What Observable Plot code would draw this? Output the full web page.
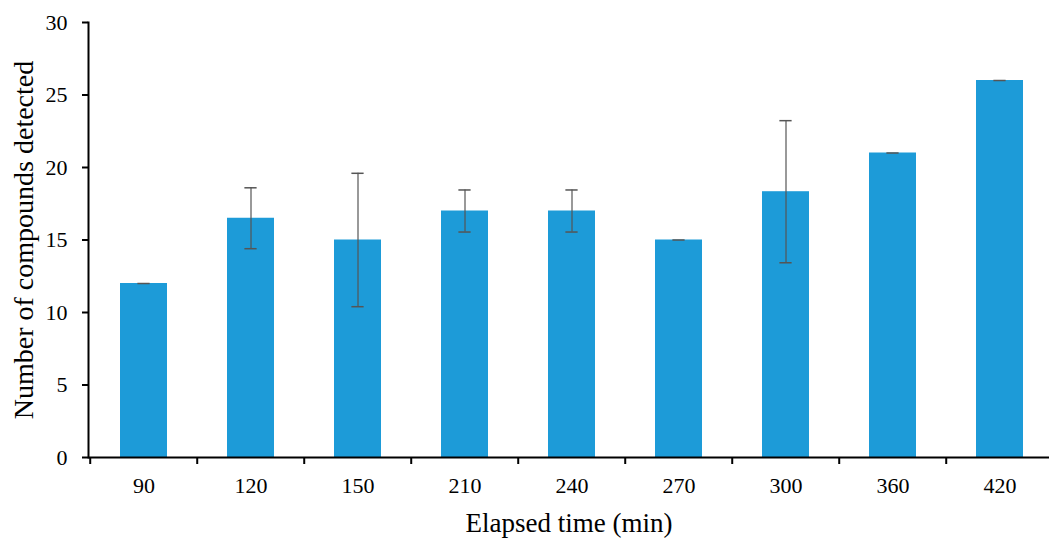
<!DOCTYPE html>
<html>
<head>
<meta charset="utf-8">
<script src="https://cdn.jsdelivr.net/npm/d3@7"></script>
<script src="https://cdn.jsdelivr.net/npm/@observablehq/plot@0.6"></script>
<style>
  html, body { margin: 0; padding: 0; background: #fff; }
  #chart svg { display: block; }
</style>
</head>
<body>
<div id="chart"></div>
<script>
// Data
const times = ["90", "120", "150", "210", "240", "270", "300", "360", "420"];
const counts = [12, 16.5, 15, 17, 17, 15, 18.33, 21, 26];
const errors = [0, 2.1, 4.6, 1.45, 1.45, 0, 4.9, 0, 0];
const yTicks = [0, 5, 10, 15, 20, 25, 30];
const xTitle = "Elapsed time (min)";
const yTitle = "Number of compounds detected";

const data = times.map((t, i) => ({t, v: counts[i], e: errors[i]}));

const W = 1049, H = 541;
const mL = 88, mT = 22, mB = 84;
const xRange = [87.5, 1055.5];
const gap = 1.3 / 2.3; // Excel-like gap width
const step = (xRange[1] - xRange[0]) / times.length;
const barW = step * (1 - gap);
const capW = 12;
const font = "'Liberation Serif', 'DejaVu Serif', serif";

const chart = Plot.plot({
  width: W,
  height: H,
  marginLeft: mL,
  marginRight: 0,
  marginTop: mT,
  marginBottom: mB,
  style: {fontFamily: font, color: "#000", background: "#fff"},
  x: {type: "band", domain: times, range: xRange, paddingInner: gap, paddingOuter: gap / 2},
  y: {domain: [0, 30]},
  marks: [
    Plot.barY(data, {x: "t", y: "v", fill: "#1d9bd8"}),
    Plot.ruleX(data, {x: "t", y1: d => d.v - d.e, y2: d => d.v + d.e, stroke: "#555", strokeWidth: 1.2}),
    Plot.tickY(data, {x: "t", y: d => d.v + d.e, stroke: "#555", strokeWidth: 1.5,
      insetLeft: (barW - capW) / 2, insetRight: (barW - capW) / 2}),
    Plot.tickY(data.filter(d => d.e > 0), {x: "t", y: d => d.v - d.e, stroke: "#555", strokeWidth: 1.5,
      insetLeft: (barW - capW) / 2, insetRight: (barW - capW) / 2}),
    // x axis line and category boundary ticks
    Plot.ruleY([0], {stroke: "#000", strokeWidth: 2}),
    Plot.ruleX(times, {x: d => d, y1: 0, y2: 0, dx: -step / 2, insetBottom: -7, stroke: "#000", strokeWidth: 2}),
    // y axis line
    Plot.frame({anchor: "left", stroke: "#000", strokeWidth: 2}),
    Plot.axisY({ticks: yTicks, tickSize: 6, tickPadding: 15, tickFormat: d => String(d),
      fontSize: 22, label: null, stroke: "#000", strokeWidth: 2}),
    Plot.axisX({tickSize: 0, tickPadding: 20, fontSize: 22, label: null}),
    Plot.text([yTitle], {frameAnchor: "left", dx: -64, rotate: -90, textAnchor: "middle", lineAnchor: "middle", fontSize: 28, fill: "#000"}),
    Plot.text([xTitle], {frameAnchor: "bottom", dy: 66, lineAnchor: "middle", fontSize: 27, fill: "#000"})
  ]
});

document.getElementById("chart").appendChild(chart);
</script>
</body>
</html>
